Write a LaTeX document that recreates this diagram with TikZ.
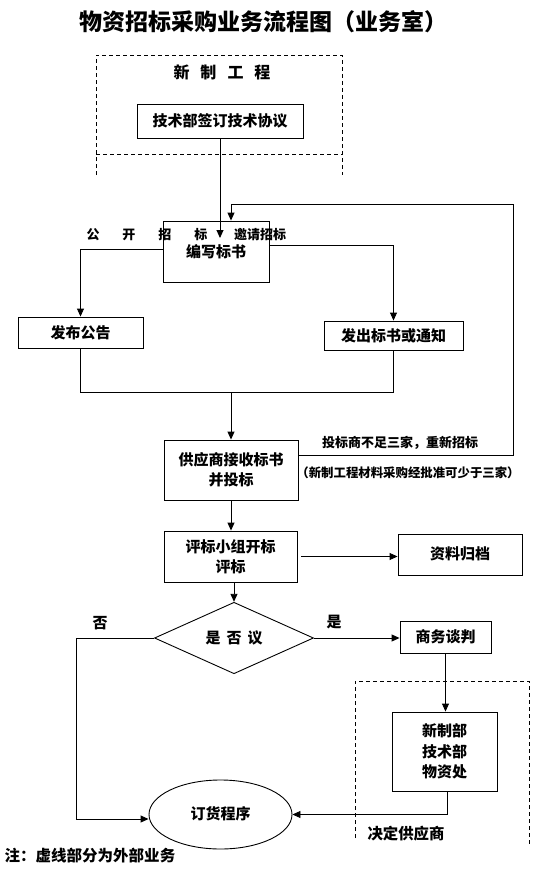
\documentclass[tikz,border=0pt]{standalone}
\usepackage{fontspec}
\setmainfont{Noto Sans CJK SC}
\usetikzlibrary{arrows.meta,shapes.geometric}
\newcommand\fsz[2]{\fontsize{#1}{#2}\selectfont\bfseries}
\begin{document}
\begin{tikzpicture}[x=1pt,y=-1pt,line width=0.9pt,
  box/.style={draw,rectangle,inner sep=0pt,align=center,font=\fsz{15}{20.5}},
  arr/.style={-{Triangle[length=8pt,width=7pt]}},
  dashbox/.style={dash pattern=on 4pt off 3pt,line width=0.8pt},
  lbl/.style={inner sep=0pt,align=center}]
\fill[white] (0,0) rectangle (540,875);
\useasboundingbox (0,0) rectangle (540,875);

% texts
\node[lbl,font=\fsz{23}{28}] (title) at (263,22) {物资招标采购业务流程图（业务室）};
\node[lbl,font=\fsz{16}{20}] (xzgc) at (222,72) {新\hskip11pt 制\hskip11pt 工\hskip11pt 程};

% dashed regions
\draw[dashbox] (96,175) -- (96,55) -- (342,55) -- (342,175);
\draw[dashbox] (96,154) -- (342,154);
\draw[dashbox] (355,838) -- (355,681) -- (529,681) -- (529,845);

% boxes
\node[box,minimum width=166pt,minimum height=34pt] (tech) at (220,121) {技术部签订技术协议};
\node[box,minimum width=106pt,minimum height=61pt] (write) at (216,251.5) {\raisebox{-4pt}{编写标书}};
\node[box,minimum width=125pt,minimum height=31pt] (pub) at (80.5,332.5) {发布公告};
\node[box,minimum width=139pt,minimum height=29pt] (send) at (393.5,335.5) {发出标书或通知};
\node[box,minimum width=134pt,minimum height=60pt] (supp) at (231,470) {供应商接收标书\\并投标};
\node[box,minimum width=133pt,minimum height=51pt] (eval) at (230.5,556.5) {评标小组开标\\评标};
\node[box,minimum width=124pt,minimum height=41pt] (arch) at (460,554.5) {\raisebox{3pt}{资料归档}};
\node[draw,diamond,inner sep=0pt,minimum width=159pt,minimum height=60pt,font=\fsz{15}{20}] (dec) at (234,638) {是\hskip6pt 否\hskip6pt 议};
\node[box,minimum width=91pt,minimum height=32pt] (nego) at (445.5,637) {商务谈判};
\node[box,minimum width=105pt,minimum height=79pt] (dept) at (444.5,751.5) {新制部\\技术部\\物资处};
\node[draw,ellipse,inner sep=0pt,minimum width=143pt,minimum height=69pt,font=\fsz{15}{20}] (order) at (220.5,814.5) {\raisebox{2pt}{订货程序}};

% labels
\node[lbl,font=\fsz{13}{16}] (gkzb) at (147,235) {公\hskip23pt 开\hskip23pt 招\hskip23pt 标};
\node[lbl,font=\fsz{13}{16}] (yqzb) at (260,235) {邀请招标};
\node[lbl,font=\fsz{13}{16}] (bzsj) at (400,443) {投标商不足三家，重新招标};
\node[lbl,font=\fsz{12.4}{16}] (xzcl) at (408,473) {（新制工程材料采购经批准可少于三家）};
\node[lbl,font=\fsz{15}{18}] (fou) at (100,623) {否};
\node[lbl,font=\fsz{15}{18}] (shi) at (334,622) {是};
\node[lbl,font=\fsz{15.4}{18}] (jdgys) at (406,834) {决定供应商};
\node[lbl,font=\fsz{15.5}{18}] (note) at (90,856) {注：虚线部分为外部业务};

% helper coordinates
\coordinate (techTip) at (220,238);
\coordinate (fbTop) at (513,204);
\coordinate (mergeY) at (0,392);
\coordinate (noX) at (76,0);

% connectors
\draw[arr] (tech.south) -- (techTip);
\draw[arr] ([yshift=15pt]supp.east) -| (fbTop) -| ([xshift=15pt]write.north);
\draw[arr] ([yshift=2.5pt]write.west) -| (pub.north);
\draw[arr] ([yshift=6.5pt]write.east) -| (send.north);
\draw (pub.south) |- (mergeY -| send.south) -- (send.south);
\draw[arr] (mergeY -| supp.north) -- (supp.north);
\draw[arr] (supp.south) -- (supp.south |- eval.north);
\draw[arr] ([xshift=4pt]eval.east) -- (eval.east -| arch.west);
\draw[arr] (eval.south -| dec.north) -- (dec.north);
\draw[arr] (dec.west) -- (dec.west -| noX) |- ([yshift=-4.5pt]order.west);
\draw[arr] (dec.east) -- (dec.east -| nego.west);
\draw[arr] (nego.south) -- (nego.south |- dept.north);
\draw[arr] ([xshift=2.5pt]dept.south) |- (order.east);
\end{tikzpicture}
\end{document}
